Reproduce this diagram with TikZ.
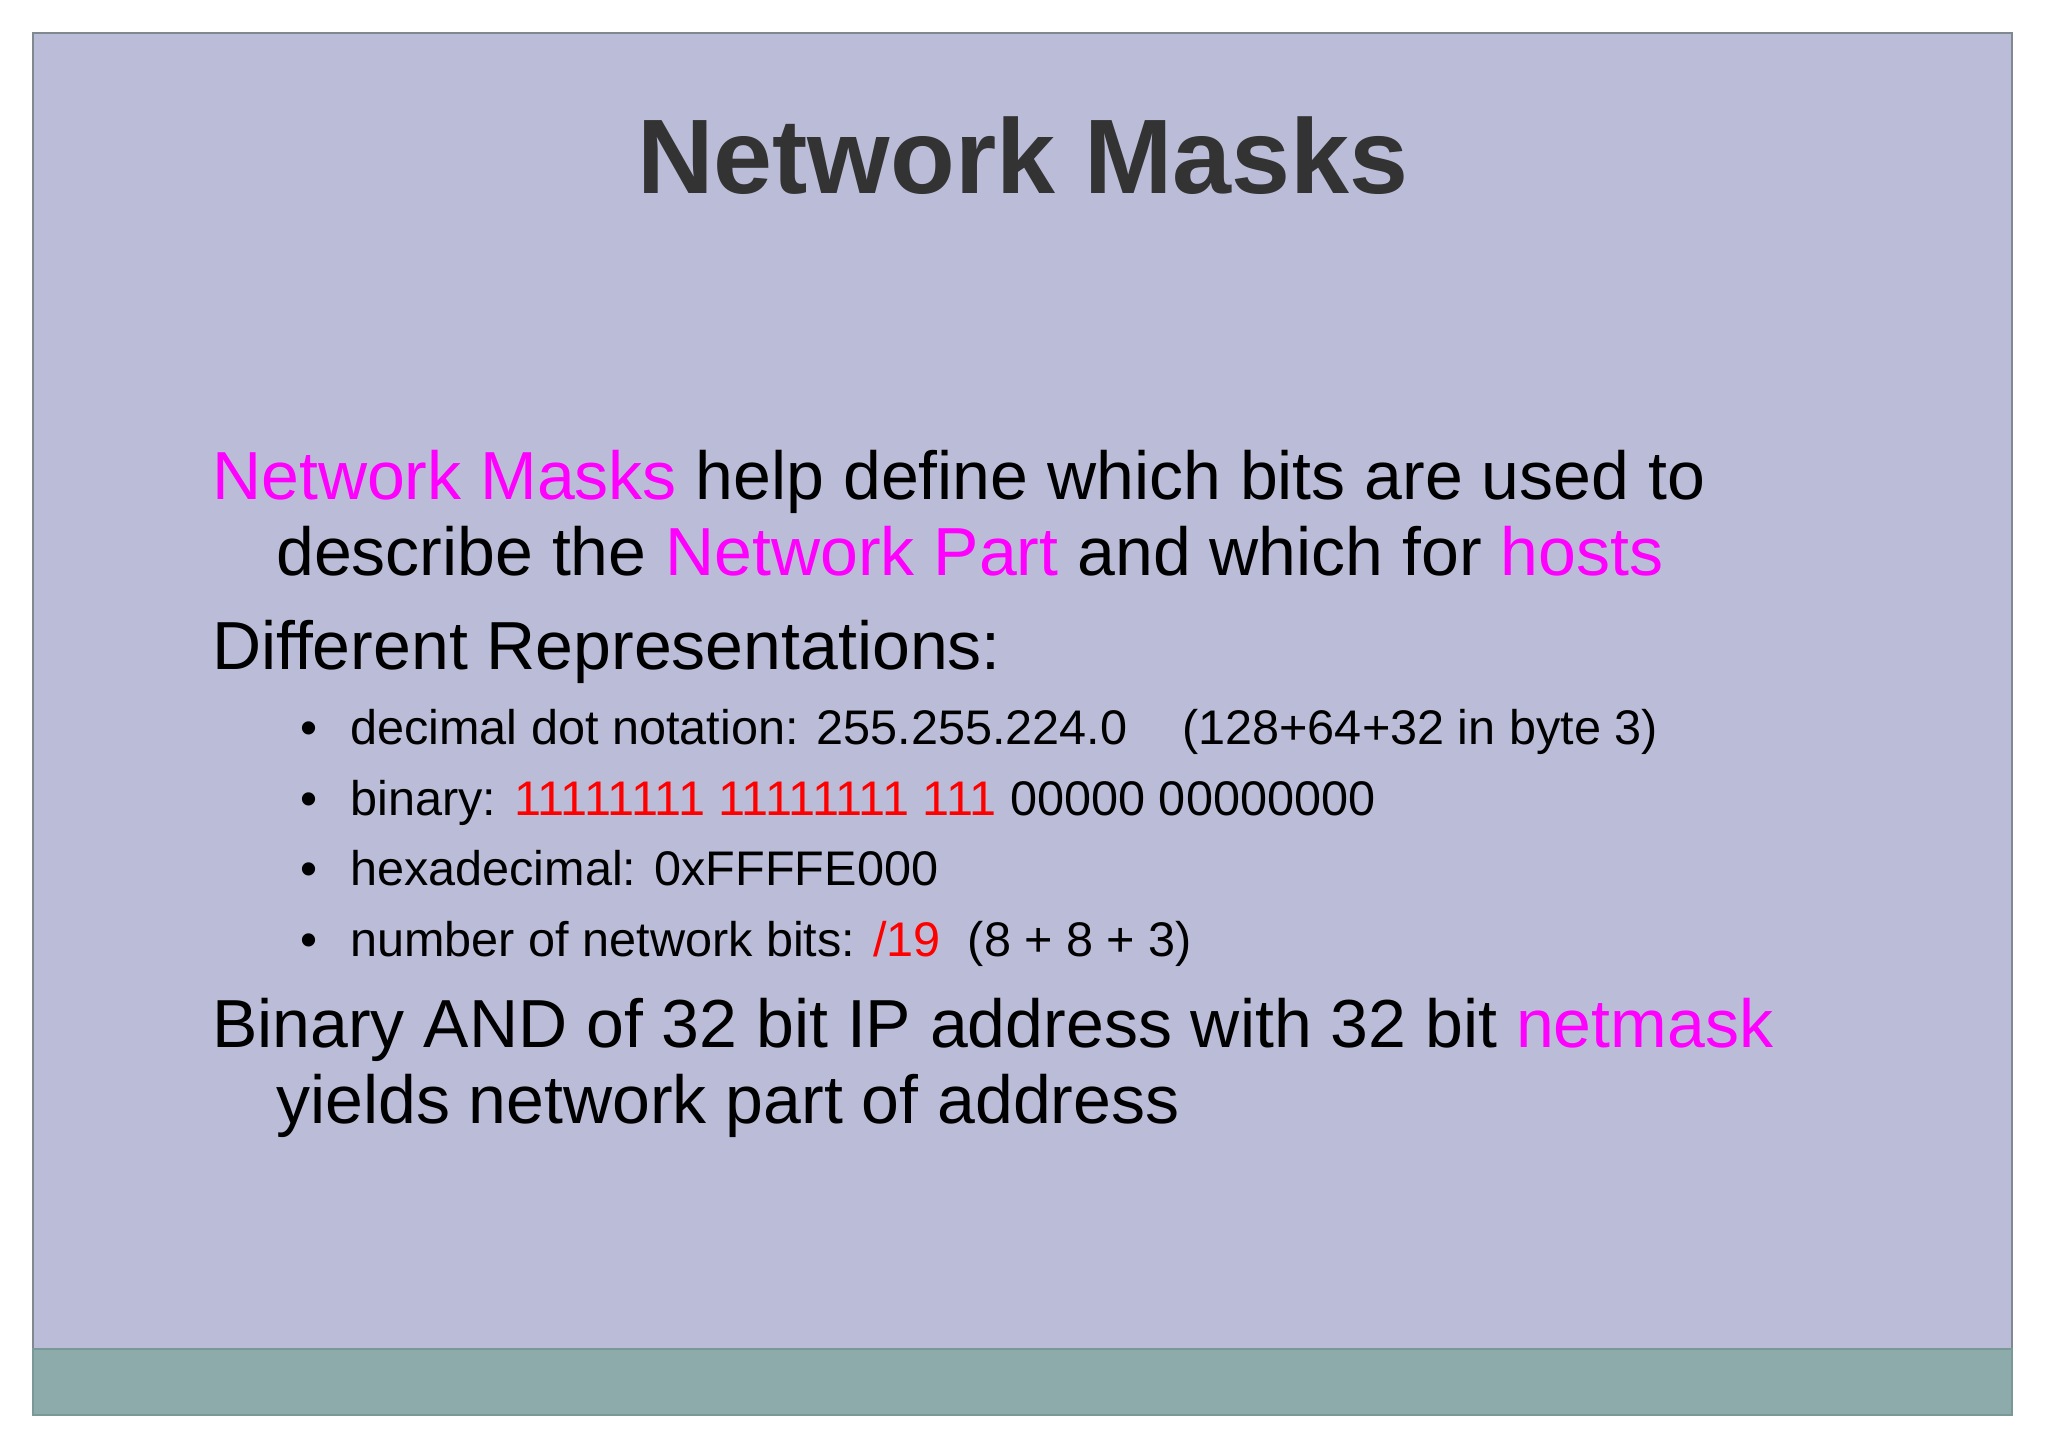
\documentclass[tikz,border=0pt]{standalone}
\usepackage{fontspec}
\setmainfont{Liberation Sans}
\definecolor{slidebg}{HTML}{BBBDD8}
\definecolor{footbg}{HTML}{8EABAB}
\definecolor{slideedge}{HTML}{808890}
\definecolor{footedge}{HTML}{7A9898}
\definecolor{titlegray}{HTML}{333333}
\definecolor{hl}{HTML}{FF00FF}
\definecolor{rd}{HTML}{FF0000}
\begin{document}
\begin{tikzpicture}[x=1pt,y=-1pt,
  titletext/.style={inner sep=0pt,anchor=base,text=titlegray,font=\fontsize{106}{110}\selectfont\bfseries},
  bodytext/.style={inner sep=0pt,anchor=base west,font=\fontsize{68}{76}\selectfont},
  subtext/.style={inner sep=0pt,anchor=base west,font=\fontsize{48.6}{56}\selectfont},
  bulletmark/.style={inner sep=0pt,anchor=base west,font=\fontsize{48.6}{56}\selectfont}]
\useasboundingbox[fill=white] (0,0) rectangle (2048,1449);
\fill[slidebg,draw=slideedge,line width=2pt] (33,33) rectangle (2012,1415);
\fill[footbg,draw=footedge,line width=1.5pt] (33,1349) rectangle (2012,1415);
\node[titletext] (title) at (1023,193) {Network Masks};
\node[bodytext] (p1a) at (212,499) {\textcolor{hl}{Network Masks} help define which bits are used to};
\node[bodytext] (p1b) at (276,575) {describe the \textcolor{hl}{Network Part} and which for \textcolor{hl}{hosts}};
\node[bodytext] (p2) at (212,669) {Different Representations:};
\node[bulletmark] (b1) at (300,744) {•};
\node[subtext] (s1) at (350,744) {decimal dot notation: 255.255.224.0\hspace{55pt}(128+64+32 in byte 3)};
\node[bulletmark] (b2) at (300,815) {•};
\node[subtext] (s2) at (350,815) {binary: \textcolor{rd}{11111111 11111111 111} 00000 00000000};
\node[bulletmark] (b3) at (300,885) {•};
\node[subtext] (s3) at (350,885) {hexadecimal: 0xFFFFE000};
\node[bulletmark] (b4) at (300,956) {•};
\node[subtext] (s4) at (350,956) {number of network bits: \textcolor{rd}{/19}\hspace{27pt}(8 + 8 + 3)};
\node[bodytext] (p3a) at (212,1047) {Binary AND of 32 bit IP address with 32 bit \textcolor{hl}{netmask}};
\node[bodytext] (p3b) at (276,1123) {yields network part of address};
\end{tikzpicture}
\end{document}
